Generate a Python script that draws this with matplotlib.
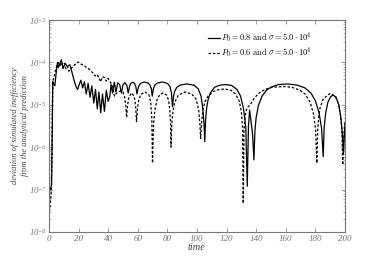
import numpy as np
import matplotlib
matplotlib.use('Agg')
import matplotlib.pyplot as plt
from matplotlib.font_manager import FontProperties
from matplotlib.ticker import FixedLocator, LogLocator, NullFormatter

plt.rcParams['font.family'] = 'Liberation Serif'
plt.rcParams['mathtext.fontset'] = 'custom'
plt.rcParams['mathtext.rm'] = 'Liberation Serif:italic'
plt.rcParams['mathtext.it'] = 'Liberation Serif:italic'

# P0 = 0.8 (solid)
t_08 = [1.0, 1.8, 2.3, 2.6, 3.3, 4.0, 5.0, 5.8, 6.4, 7.2, 8.4, 9.6, 11.0, 12.5, 14.2, 15.5,
        17.0, 18.5, 19.4, 20.5, 21.6, 22.8, 24.0, 25.2, 26.5, 27.8, 29.0, 30.3, 31.5, 32.7,
        33.8, 35.0, 36.2, 37.5, 38.8, 40.0, 41.2, 42.0, 43.0, 44.2, 45.3, 46.5, 47.8, 49.0,
        50.0, 51.3, 52.6, 53.6, 54.5, 55.3, 56.5, 57.8, 58.7, 59.5,
        60.2, 61.0, 62.2, 64.6, 67.0, 68.3, 69.2, 69.8,
        70.6, 71.5, 73.2, 76.6, 80.0, 81.8, 82.8, 83.5,
        84.2, 85.0, 86.5, 89.0, 93.5, 98.0, 100.8, 102.8, 104.0, 104.8, 105.3,
        105.8, 106.5, 107.5, 109.0, 112.0, 115.5, 119.5, 123.5, 127.0, 129.5, 131.5, 133.0, 134.0,
        134.8, 135.6, 136.6, 137.6, 138.5,
        139.2, 140.0, 141.5, 144.0, 147.0, 150.0, 155.0, 161.5, 168.0, 173.0, 177.0, 180.0,
        182.5, 184.2, 185.3,
        186.0, 187.0, 188.5, 190.3, 192.0, 194.0, 195.8, 197.3, 198.4, 199.0, 200.0]
y_08 = [1.0e-7, 1.3e-7, 3.0e-6, 3.5e-5, 3.0e-5, 2.8e-5, 6e-5, 1.0e-4, 7.5e-5, 9e-5, 1.15e-4, 7.2e-5,
        9.5e-5, 8e-5, 8.8e-5, 6e-5, 3.8e-5, 2.6e-5, 2.3e-5, 3e-5, 3.8e-5, 2.5e-5, 3.5e-5, 1.8e-5,
        3.2e-5, 1.5e-5, 2.8e-5, 1.1e-5, 2.3e-5, 8e-6, 2e-5, 6.5e-6, 1.8e-5, 7e-6, 2.2e-5, 1.2e-5,
        1.6e-5, 3.0e-5, 1.9e-5, 3.4e-5, 2.0e-5, 3.3e-5, 3.0e-5, 1.9e-5,
        2.9e-5, 3.35e-5, 2.9e-5, 1.9e-5, 2.7e-5, 3.2e-5, 3.4e-5, 3.2e-5, 2.7e-5, 1.8e-5,
        2.4e-5, 2.9e-5, 3.25e-5, 3.45e-5, 3.25e-5, 2.9e-5, 2.4e-5, 1.6e-5,
        2.4e-5, 2.9e-5, 3.25e-5, 3.45e-5, 3.2e-5, 2.7e-5, 1.9e-5, 9e-6,
        1.6e-5, 2.1e-5, 2.6e-5, 2.95e-5, 3.1e-5, 2.9e-5, 2.4e-5, 1.6e-5, 8e-6, 3.5e-6, 1.35e-6,
        4e-6, 8e-6, 1.3e-5, 1.9e-5, 2.6e-5, 2.9e-5, 3.0e-5, 2.85e-5, 2.3e-5, 1.6e-5, 8e-6, 3e-6, 1.2e-7,
        3e-6, 7.5e-6, 4e-6, 2e-6, 5e-7,
        2.5e-6, 5e-6, 9.5e-6, 1.6e-5, 2.2e-5, 2.6e-5, 3.0e-5, 3.1e-5, 2.9e-5, 2.5e-5, 1.9e-5, 1.25e-5,
        6.5e-6, 2.8e-6, 6e-7,
        3e-6, 6.5e-6, 1.15e-5, 1.55e-5, 1.7e-5, 1.5e-5, 1.0e-5, 5e-6, 1.8e-6, 7e-7, 3.5e-6]

# P0 = 0.6 (dashed)
t_06 = [0.4, 1.0, 1.6, 2.1, 2.5, 3.0, 3.8, 4.6, 5.5, 6.5, 7.5, 8.5, 9.5, 10.5, 11.5, 12.5, 13.5,
        14.5, 15.5, 17.0, 18.5, 19.8, 21.0, 22.5, 24.0, 25.5, 27.0, 28.5, 30.0, 31.3, 32.5, 33.8,
        35.0, 36.2, 37.5, 38.8, 40.0, 41.3, 42.3, 43.5, 44.3,
        45.3, 46.8, 48.5, 50.0, 51.2, 52.0, 52.5,
        53.2, 54.0, 55.9, 57.6, 58.5, 59.2,
        59.8, 60.6, 62.0, 64.9, 67.5, 68.8, 69.5, 70.0,
        70.5, 70.8, 71.6, 73.1, 75.0, 77.2, 79.4, 80.8, 81.7, 82.2, 82.5,
        83.0, 83.8, 85.0, 87.5, 92.0, 96.5, 99.5, 101.2, 102.0, 102.5,
        103.2, 104.2, 105.5, 107.5, 111.0, 115.0, 119.0, 123.0, 126.0, 128.5, 130.0, 130.8, 131.3,
        131.8, 132.6, 133.8, 136.0, 138.5, 142.0, 146.0, 151.0, 158.3, 164.0, 169.0, 173.0,
        176.5, 178.8, 180.2, 181.0,
        181.6, 182.2, 183.2, 185.4, 190.0, 193.5, 195.6, 197.0, 197.9, 198.5, 199.3, 200.0]
y_06 = [3e-8, 5e-8, 9e-8, 8e-7, 2e-5, 4e-5, 5e-5, 7e-5, 8.5e-5, 1.0e-4, 8.5e-5, 1.0e-4, 7.5e-5,
        9.5e-5, 7e-5, 8e-5, 6.2e-5, 6.8e-5, 7.5e-5, 8.5e-5, 9.5e-5, 1.02e-4, 9.5e-5, 8.8e-5, 8.3e-5,
        7.6e-5, 7e-5, 6.2e-5, 5.5e-5, 4.8e-5, 5.2e-5, 4.3e-5, 3.5e-5, 4.6e-5, 4.4e-5, 3.6e-5, 4.2e-5,
        3.5e-5, 3.1e-5, 2.2e-5, 1.6e-5,
        1.8e-5, 2.05e-5, 2.1e-5, 2.0e-5, 1.5e-5, 9e-6, 5e-6,
        1.0e-5, 1.5e-5, 1.9e-5, 1.6e-5, 1.0e-5, 4e-6,
        8e-6, 1.25e-5, 1.75e-5, 2.0e-5, 1.75e-5, 1.15e-5, 5e-6, 4.2e-7,
        2e-6, 3.8e-6, 7.5e-6, 1.35e-5, 1.75e-5, 1.9e-5, 1.7e-5, 1.3e-5, 7.5e-6, 3.5e-6, 1e-6,
        3.5e-6, 7e-6, 1.15e-5, 1.7e-5, 2.0e-5, 1.8e-5, 1.35e-5, 7.5e-6, 3.5e-6, 1.6e-6,
        4e-6, 8e-6, 1.2e-5, 1.6e-5, 2.05e-5, 2.3e-5, 2.35e-5, 2.2e-5, 1.8e-5, 1.25e-5, 7e-6, 3e-6, 4.7e-8,
        2.5e-6, 5.5e-6, 8.5e-6, 1.0e-5, 1.4e-5, 1.9e-5, 2.3e-5, 2.6e-5, 2.7e-5, 2.6e-5, 2.25e-5, 1.8e-5,
        1.15e-5, 6e-6, 2.5e-6, 4.2e-7,
        2.5e-6, 5e-6, 8.5e-6, 1.4e-5, 1.85e-5, 1.6e-5, 1.05e-5, 5.5e-6, 2.5e-6, 3.8e-7, 2e-6, 4e-6]

x_ticks = [0, 20, 40, 60, 80, 100, 120, 140, 160, 180, 200]
y_ticks = [1e-8, 1e-7, 1e-6, 1e-5, 1e-4, 1e-3]
y_ticklabels = ['$10^{-8}$', '$10^{-7}$', '$10^{-6}$', '$10^{-5}$', '$10^{-4}$', '$10^{-3}$']

grey = '#777777'
fig = plt.figure(figsize=(3.82, 2.6), dpi=100)
ax = fig.add_axes([0.128, 0.108, 0.775, 0.815])

ax.plot(t_08, y_08, color='black', lw=0.9, ls='-',
        label=r'$P_0=0.8\ \mathrm{and}\ \sigma=5.0\cdot10^4$')
ax.plot(t_06, y_06, color='black', lw=0.9, ls=(0, (2, 1.5)),
        label=r'$P_0=0.6\ \mathrm{and}\ \sigma=5.0\cdot10^4$')

ax.set_yscale('log')
ax.set_xlim(0, 200)
ax.set_ylim(1e-8, 1e-3)
ax.xaxis.set_major_locator(FixedLocator(x_ticks))
ax.set_xticklabels([str(v) for v in x_ticks])
ax.set_yticks(y_ticks)
ax.set_yticklabels(y_ticklabels)
ax.yaxis.set_minor_locator(LogLocator(base=10, subs=np.arange(2, 10)))
ax.yaxis.set_minor_formatter(NullFormatter())

for s in ax.spines.values():
    s.set_color(grey)
    s.set_linewidth(0.8)
ax.tick_params(which='both', direction='in', top=True, right=True, colors=grey)
ax.tick_params(which='major', length=3, width=0.5)
ax.tick_params(which='minor', length=1.5, width=0.4)
ax.tick_params(axis='x', labelsize=6.5, pad=2)
ax.tick_params(axis='y', labelsize=6.3, pad=1.5)
for lab in ax.get_xticklabels():
    lab.set_fontstyle('italic')

ax.set_xlabel('time', fontsize=7.5, style='italic', color='#444444', labelpad=0)
ax.set_ylabel('deviation of simulated inefficiency\nfrom the analytical prediction',
              fontsize=6.1, style='italic', color='#444444', linespacing=1.3)
ax.yaxis.set_label_coords(-0.068, 0.5)

leg = ax.legend(loc='upper left', bbox_to_anchor=(0.525, 0.965), frameon=False,
                prop=FontProperties(size=6, math_fontfamily='cm'),
                handlelength=1.5, handletextpad=0.1, labelspacing=0.1,
                borderaxespad=0)

fig.savefig('out.png', dpi=100)
